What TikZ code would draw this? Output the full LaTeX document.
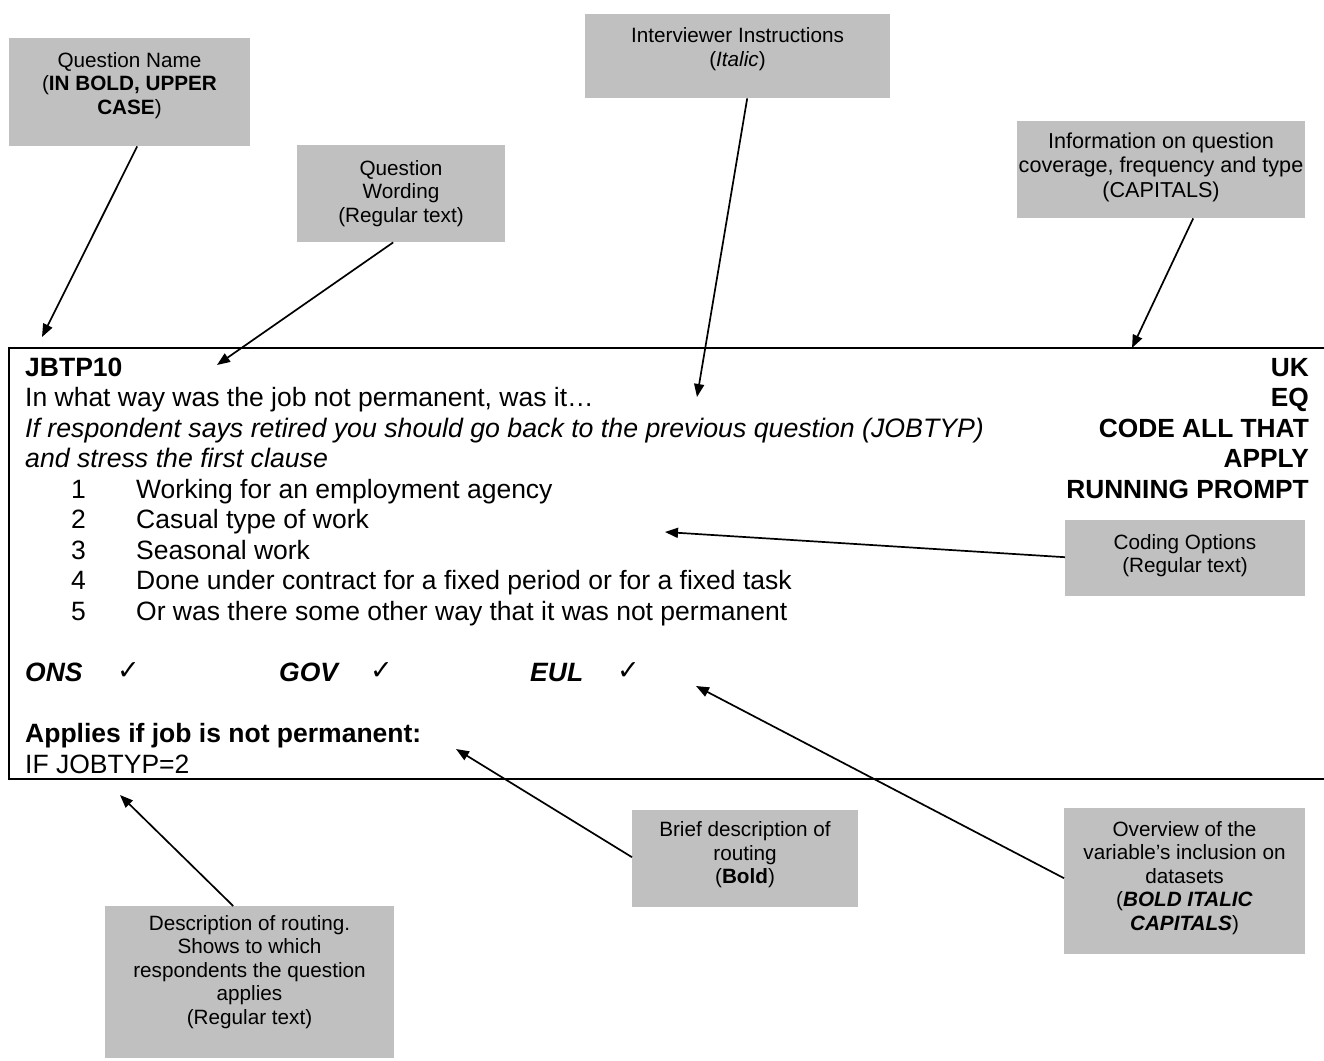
\documentclass[tikz,border=0pt]{standalone}
\usepackage{fontspec}
\setmainfont{Liberation Sans}
\newfontfamily\symfont{DejaVu Sans}
\usetikzlibrary{arrows.meta}
\definecolor{boxgray}{HTML}{C0C0C0}
\tikzset{
  gbox/.style={fill=boxgray, draw=none, anchor=north west, inner sep=0pt},
  btxt/.style={align=center, inner sep=0pt, font=\fontsize{20.7}{23.5}\selectfont},
  body/.style={anchor=base west, inner sep=0pt, font=\fontsize{26.5}{30.5}\selectfont},
  rbody/.style={anchor=base east, inner sep=0pt, font=\fontsize{26.3}{30.5}\selectfont\bfseries},
  chk/.style={anchor=base west, inner sep=0pt, font=\fontsize{27}{30}\selectfont\symfont},
  arr/.style={line width=1.7pt, -{Triangle[length=13pt,width=10pt]}},
  frame/.style={line width=1.8pt},
}
\begin{document}
\begin{tikzpicture}[x=1pt,y=-1pt]
\useasboundingbox (0,0) rectangle (1324,1060);

% main question frame (open at the right)
\draw[frame] (1324,348) -- (9,348) -- (9,779) -- (1324,779);

% left column text
\node[body, font=\fontsize{26.5}{30.5}\selectfont\bfseries] (qname) at (25,376) {JBTP10};
\node[body] (wording) at (25,406.5) {In what way was the job not permanent, was it…};
\node[body, font=\fontsize{26.7}{30.5}\selectfont\itshape] (instr1) at (25,437) {If respondent says retired you should go back to the previous question (JOBTYP)};
\node[body, font=\fontsize{26.7}{30.5}\selectfont\itshape] (instr2) at (25,467.5) {and stress the first clause};
\foreach \n/\t/\yy in {1/Working for an employment agency/498,
                       2/Casual type of work/528.5,
                       3/Seasonal work/559,
                       4/Done under contract for a fixed period or for a fixed task/589.5,
                       5/Or was there some other way that it was not permanent/620}{
  \node[body] (num\n) at (71,\yy) {\n};
  \node[body] (item\n) at (136,\yy) {\t};
}
% right column
\node[rbody] (uk) at (1309,376) {UK};
\node[rbody] (eq) at (1309,406.5) {EQ};
\node[rbody] (code) at (1309,437) {CODE ALL THAT};
\node[rbody] (apply) at (1309,467.5) {APPLY};
\node[rbody] (run) at (1309,498) {RUNNING PROMPT};

% datasets row
\node[body, font=\fontsize{26.5}{30.5}\selectfont\bfseries\itshape] (ons) at (25,681) {ONS};
\node[chk] (onsc) at (117,679) {✓};
\node[body, font=\fontsize{26.5}{30.5}\selectfont\bfseries\itshape] (gov) at (279,681) {GOV};
\node[chk] (govc) at (370,679) {✓};
\node[body, font=\fontsize{26.5}{30.5}\selectfont\bfseries\itshape] (eul) at (530,681) {EUL};
\node[chk] (eulc) at (617,679) {✓};

% routing
\node[body, font=\fontsize{26.5}{30.5}\selectfont\bfseries] (applies) at (25,742) {Applies if job is not permanent:};
\node[body] (ifjob) at (25,773) {IF JOBTYP=2};

% grey callout boxes
\node[gbox, minimum width=241pt, minimum height=108pt] (qn) at (9,38) {};
\node[btxt] (qnL) at (129.5,85.5) {Question Name\\(\textbf{IN BOLD, UPPER}\\\textbf{CASE})};

\node[gbox, minimum width=208pt, minimum height=97pt] (qw) at (297,145) {};
\node[btxt] (qwL) at (401,193.5) {Question\\Wording\\(Regular text)};

\node[gbox, minimum width=305pt, minimum height=84pt] (ii) at (585,14) {};
\node[btxt] (iiL) at (737.5,49) {Interviewer Instructions\\(\textit{Italic})};

\node[gbox, minimum width=288pt, minimum height=97pt] (info) at (1017,121) {};
\node[btxt, font=\fontsize{21.6}{24.5}\selectfont] (infoL) at (1161,167) {Information on question\\coverage, frequency and type\\(CAPITALS)};

\node[gbox, minimum width=240pt, minimum height=76pt] (co) at (1065,520) {};
\node[btxt] (coL) at (1185,555.5) {Coding Options\\(Regular text)};

\node[gbox, minimum width=226pt, minimum height=97pt] (br) at (632,810) {};
\node[btxt] (brL) at (745,855) {Brief description of\\routing\\(\textbf{Bold})};

\node[gbox, minimum width=241pt, minimum height=146pt] (ov) at (1064,808) {};
\node[btxt] (ovL) at (1184.5,878) {Overview of the\\variable’s inclusion on\\datasets\\(\textbf{\textit{BOLD ITALIC}}\\\textbf{\textit{CAPITALS}})};

\node[gbox, minimum width=289pt, minimum height=152pt] (dr) at (105,906) {};
\node[btxt] (drL) at (249.5,972) {Description of routing.\\Shows to which\\respondents the question\\applies\\(Regular text)};

% arrow tips
\coordinate (tQN) at (42,337);
\coordinate (tQW) at (217,365);
\coordinate (tII) at (697,397);
\coordinate (tINFO) at (1132,348);
\coordinate (tCO) at (665,532);
\coordinate (tBR) at (456,749);
\coordinate (tOV) at (696,686);
\coordinate (tDR) at (120,795);

% connectors
\draw[arr] (qn.south) ++(7.5,0) -- (tQN);
\draw[arr] (qw.south) ++(-8,0) -- (tQW);
\draw[arr] (ii.south) ++(9.5,0) -- (tII);
\draw[arr] (info.south) ++(32,0) -- (tINFO);
\draw[arr] (co.west) ++(0,-1) -- (tCO);
\draw[arr] (br.west) ++(0,-1.5) -- (tBR);
\draw[arr] (ov.west) ++(0,-3) -- (tOV);
\draw[arr] (dr.north) ++(-16.5,0) -- (tDR);
\end{tikzpicture}
\end{document}
